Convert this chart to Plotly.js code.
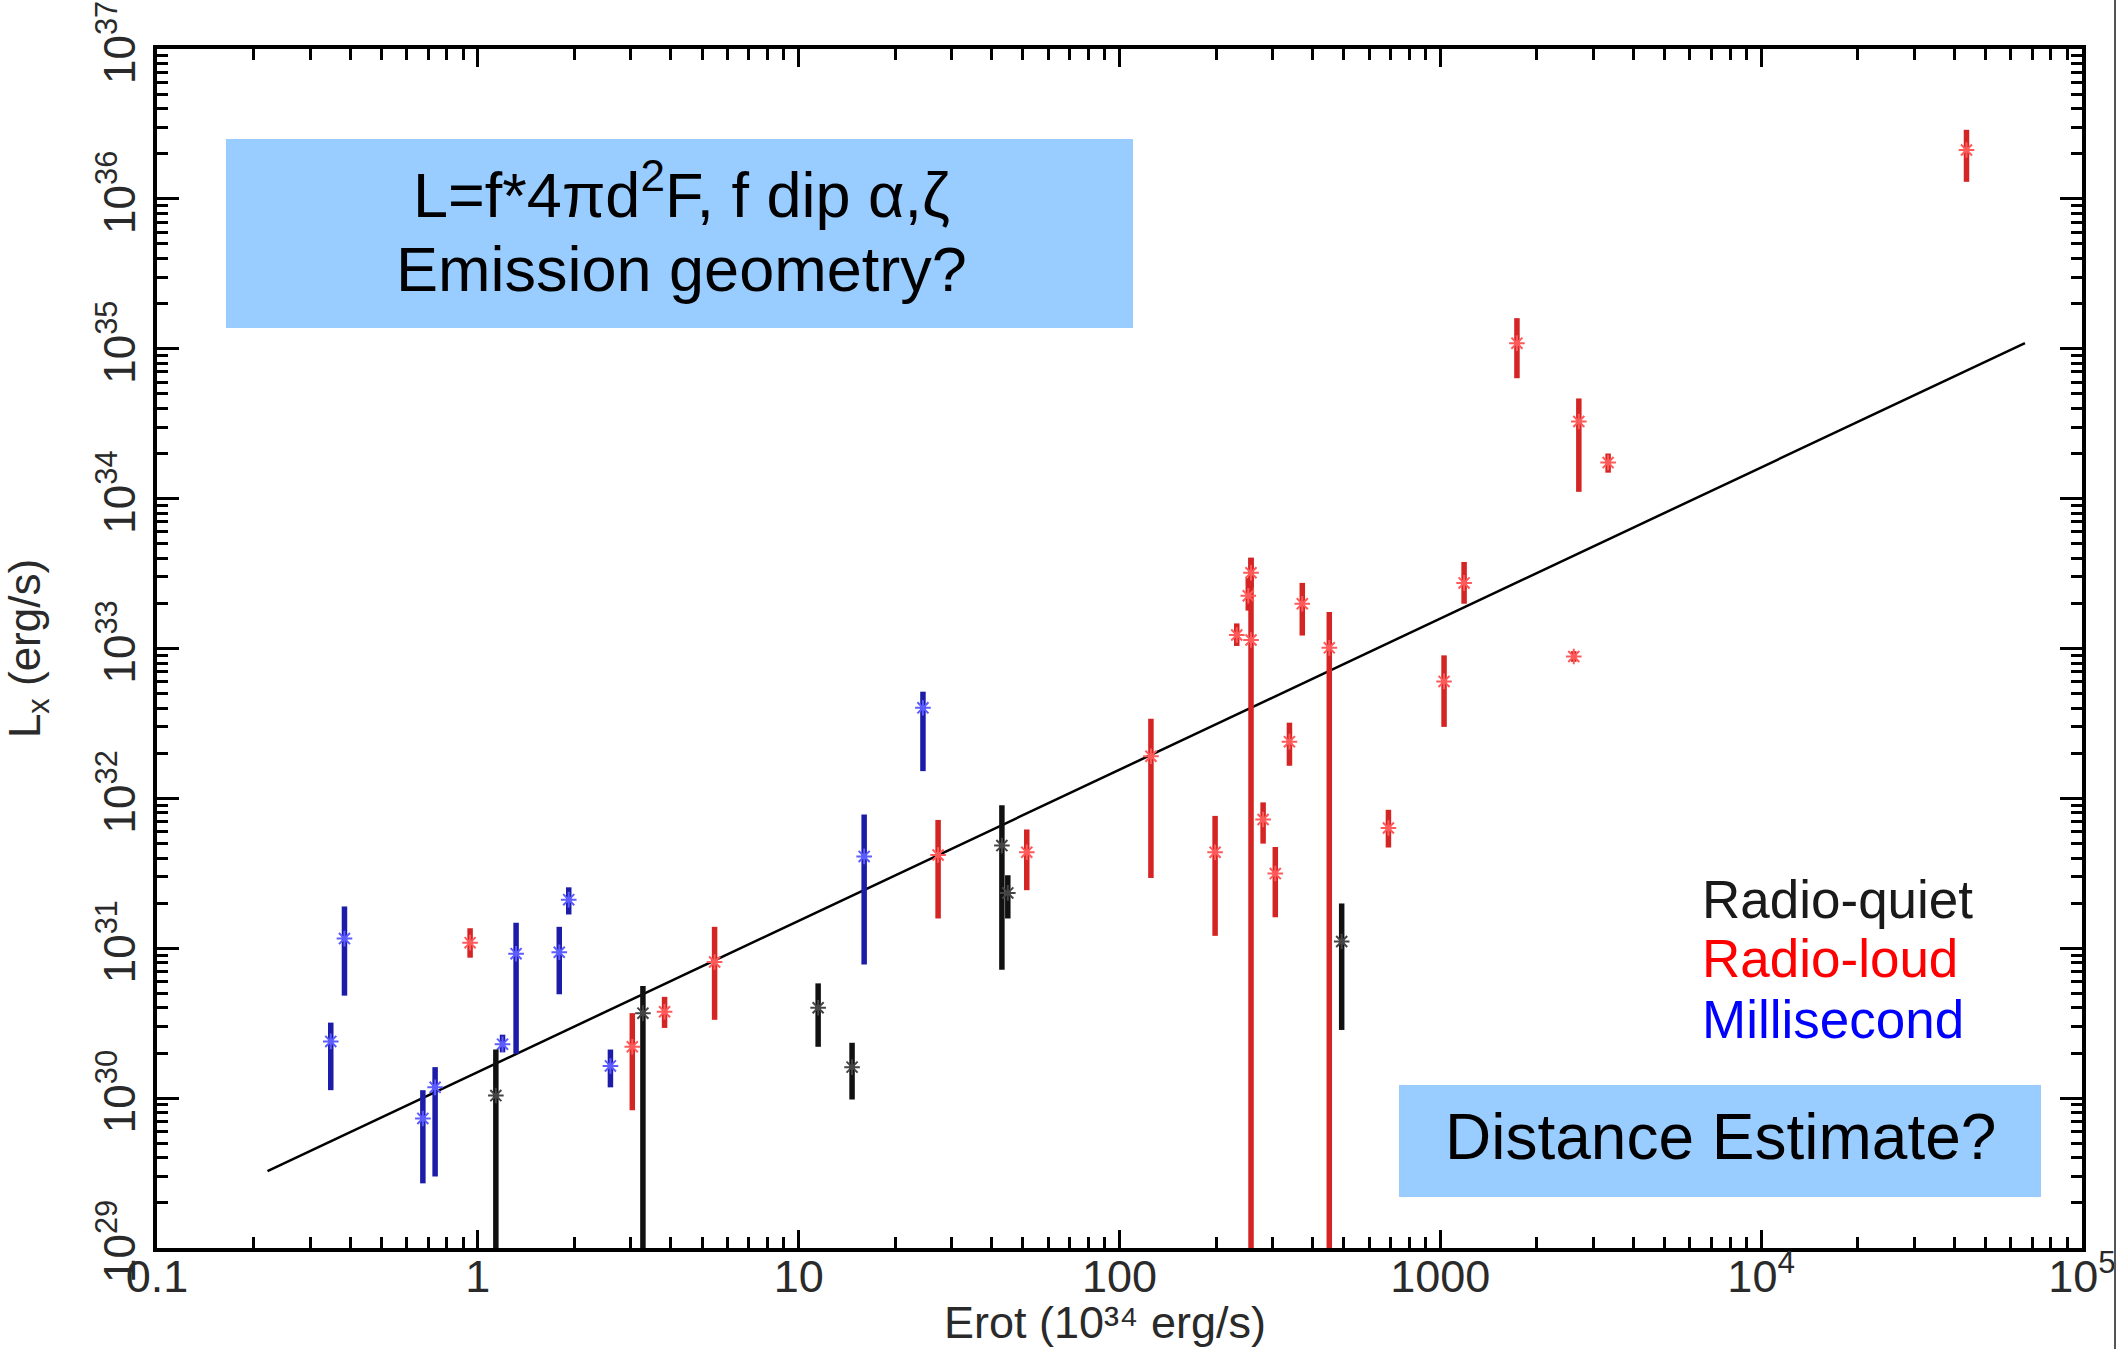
<!DOCTYPE html>
<html>
<head>
<meta charset="utf-8">
<script src="https://cdn.plot.ly/plotly-3.0.1.min.js"></script>
<style>
  html, body { margin: 0; padding: 0; background: #ffffff; }
  #chart { width: 2118px; height: 1349px; }
</style>
</head>
<body>
<div id="chart"></div>
<script>
// ---------- data (Erot in 1e34 erg/s, Lx in erg/s) ----------
// Millisecond pulsars
const blueE  = [0.348, 0.384, 0.674, 0.736, 1.194, 1.316, 1.794, 1.92, 2.59, 16.0, 24.4];
const blueL  = [2.39e30, 1.16e31, 7.32e29, 1.18e30, 2.29e30, 9.2e30, 9.4e30, 2.11e31, 1.64e30, 4.10e31, 4.02e32];
const blueHi = [3.19e30, 1.90e31, 1.13e30, 1.61e30, 2.65e30, 1.48e31, 1.39e31, 2.55e31, 2.11e30, 7.8e31, 5.15e32];
const blueLo = [1.13e30, 4.83e30, 2.70e29, 3.0e29, 2.02e30, 1.98e30, 4.93e30, 1.68e31, 1.18e30, 7.8e30, 1.52e32];

// Radio-loud pulsars
const redE  = [0.946, 3.03, 3.82, 5.47, 27.2, 51.4, 125.3, 198.6, 232, 257, 252, 257, 280.3, 305.9, 338.6, 371.3, 450.7, 689, 1027, 1186, 1733, 2606, 2702, 3334, 43650];
const redL  = [1.09e31, 2.2e30, 3.77e30, 8.1e30, 4.19e31, 4.37e31, 1.91e32, 4.37e31, 1.23e33, 3.2e33, 2.25e33, 1.14e33, 7.23e31, 3.15e31, 2.39e32, 1.99e33, 1.01e33, 6.34e31, 6.03e32, 2.74e33, 1.09e35, 8.85e32, 3.27e34, 1.74e34, 2.12e36];
const redHi = [1.36e31, 3.69e30, 4.74e30, 1.39e31, 7.18e31, 6.2e31, 3.40e32, 7.64e31, 1.47e33, 4.03e33, 2.95e33, 4.03e33, 9.4e31, 4.74e31, 3.2e32, 2.74e33, 1.75e33, 8.39e31, 9.0e32, 3.78e33, 1.6e35, 9.6e32, 4.66e34, 2.0e34, 2.89e36];
const redLo = [8.65e30, 8.3e29, 2.94e30, 3.33e30, 1.58e31, 2.44e31, 2.94e31, 1.21e31, 1.04e33, 2.55e33, 1.79e33, 1e29, 4.99e31, 1.61e31, 1.65e32, 1.22e33, 1e29, 4.7e31, 3.0e32, 1.99e33, 6.36e34, 8.15e32, 1.11e34, 1.49e34, 1.30e36];

// Radio-quiet pulsars
const blackE  = [1.138, 3.27, 11.5, 14.67, 43.0, 44.86, 492.6];
const blackL  = [1.04e30, 3.69e30, 4.01e30, 1.61e30, 4.84e31, 2.34e31, 1.11e31];
const blackHi = [2.11e30, 5.6e30, 5.83e30, 2.34e30, 9.0e31, 3.07e31, 1.99e31];
const blackLo = [1e29, 1e29, 2.2e30, 9.79e29, 7.18e30, 1.58e31, 2.85e30];

// fitted relation (end points)
const fitE = [0.221, 66400];
const fitL = [3.26e29, 1.09e35];

// axis ticks and titles
const xTickVals = [0.1, 1, 10, 100, 1000, 1e4, 1e5];
const xTickText = ['0.1', '1', '10', '100', '1000', '10<sup>4</sup>', '10<sup>5</sup>'];
const yTickVals = [1e29, 1e30, 1e31, 1e32, 1e33, 1e34, 1e35, 1e36, 1e37];
const yTickText = ['10<sup>29</sup>', '10<sup>30</sup>', '10<sup>31</sup>', '10<sup>32</sup>', '10<sup>33</sup>', '10<sup>34</sup>', '10<sup>35</sup>', '10<sup>36</sup>', '10<sup>37</sup>'];
const xTitle = 'Erot (10³⁴ erg/s)';
const yTitle = 'L<sub>x</sub> (erg/s)';

// legend labels
const groupNames = ['Radio-quiet', 'Radio-loud', 'Millisecond'];

// ---------- build traces ----------
function errTrace(name, xs, ys, hi, lo, barColor, markColor) {
  return {
    type: 'scatter', mode: 'markers', name: name,
    x: xs, y: ys,
    marker: { symbol: 'asterisk-open', size: 13, color: markColor, line: { color: markColor, width: 2 } },
    error_y: {
      type: 'data', symmetric: false,
      array: ys.map((v, i) => hi[i] - v),
      arrayminus: ys.map((v, i) => v - lo[i]),
      color: barColor, thickness: 5.5, width: 0
    },
    showlegend: false, hoverinfo: 'x+y'
  };
}

const traces = [
  { type: 'scatter', mode: 'lines', x: fitE, y: fitL, line: { color: '#000000', width: 2.5 }, showlegend: false, hoverinfo: 'skip' },
  errTrace(groupNames[2], blueE, blueL, blueHi, blueLo, '#1c1ca8', '#5c5cff'),
  errTrace(groupNames[1], redE, redL, redHi, redLo, '#d42424', '#ff5a5a'),
  errTrace(groupNames[0], blackE, blackL, blackHi, blackLo, '#111111', '#444444')
];

// pixel helpers for paper coordinates (plot area 157..2082 x 49..1248)
const PL = 157, PR = 2082, PT = 49, PB = 1248;
const px = X => (X - PL) / (PR - PL);
const py = Y => (PB - Y) / (PB - PT);

const FONT = '"Liberation Sans", Arial, Helvetica, sans-serif';
const axisCommon = {
  type: 'log', showgrid: false, zeroline: false,
  showline: true, linecolor: '#000000', linewidth: 4, mirror: 'allticks',
  ticks: 'inside', tickcolor: '#000000', tickwidth: 3,
  tickmode: 'array',
  minor: { ticks: 'inside', dtick: 'D1', ticklen: 11, tickwidth: 3, tickcolor: '#000000', showgrid: false },
  automargin: false
};

const layout = {
  width: 2118, height: 1349,
  margin: { l: PL, r: 2118 - PR, t: PT, b: 1349 - PB, pad: 0 },
  paper_bgcolor: '#ffffff', plot_bgcolor: '#ffffff',
  font: { family: FONT, color: '#2a2a2a' },
  showlegend: false,
  xaxis: Object.assign({}, axisCommon, {
    range: [-1, 5], ticklen: 18, ticklabelstandoff: -14,
    tickvals: xTickVals, ticktext: xTickText,
    tickfont: { family: FONT, size: 45, color: '#2a2a2a' }
  }),
  yaxis: Object.assign({}, axisCommon, {
    range: [29, 37], ticklen: 22, tickangle: -90,
    tickvals: yTickVals, ticktext: yTickText,
    tickfont: { family: FONT, size: 44, color: '#2a2a2a' },
    title: { text: yTitle, font: { family: FONT, size: 44, color: '#2a2a2a' }, standoff: 40 }
  }),
  shapes: [
    { type: 'rect', xref: 'paper', yref: 'paper', x0: px(226), x1: px(1133), y0: py(328), y1: py(139),
      fillcolor: '#99ccff', line: { width: 0 }, layer: 'above' },
    { type: 'rect', xref: 'paper', yref: 'paper', x0: px(1399), x1: px(2041), y0: py(1197), y1: py(1085),
      fillcolor: '#99ccff', line: { width: 0 }, layer: 'above' },
    { type: 'line', xref: 'paper', yref: 'paper', x0: px(2115), x1: px(2115), y0: py(0), y1: py(1349),
      line: { color: '#555555', width: 2 } }
  ],
  annotations: [
    { xref: 'paper', yref: 'paper', x: px(1105), y: py(1349), xanchor: 'center', yanchor: 'bottom', showarrow: false,
      borderpad: 0, text: xTitle, font: { family: FONT, size: 45, color: '#2a2a2a' } },
    { xref: 'paper', yref: 'paper', x: px(681), y: py(190), xanchor: 'center', yanchor: 'middle', showarrow: false,
      text: 'L=f*4πd<sup>2</sup>F, f dip α,ζ', font: { family: FONT, size: 63, color: '#000000' } },
    { xref: 'paper', yref: 'paper', x: px(681), y: py(269), xanchor: 'center', yanchor: 'middle', showarrow: false,
      text: 'Emission geometry?', font: { family: FONT, size: 63, color: '#000000' } },
    { xref: 'paper', yref: 'paper', x: px(1720), y: py(1137), xanchor: 'center', yanchor: 'middle', showarrow: false,
      text: 'Distance Estimate?', font: { family: FONT, size: 64, color: '#000000' } },
    { xref: 'paper', yref: 'paper', x: px(1700), y: py(899), xanchor: 'left', yanchor: 'middle', showarrow: false,
      text: groupNames[0], font: { family: FONT, size: 53, color: '#1a1a1a' } },
    { xref: 'paper', yref: 'paper', x: px(1700), y: py(959), xanchor: 'left', yanchor: 'middle', showarrow: false,
      text: groupNames[1], font: { family: FONT, size: 53, color: '#ff0000' } },
    { xref: 'paper', yref: 'paper', x: px(1700), y: py(1019), xanchor: 'left', yanchor: 'middle', showarrow: false,
      text: groupNames[2], font: { family: FONT, size: 53, color: '#0000ff' } }
  ]
};

Plotly.newPlot('chart', traces, layout, { staticPlot: true, displayModeBar: false });
</script>
</body>
</html>
